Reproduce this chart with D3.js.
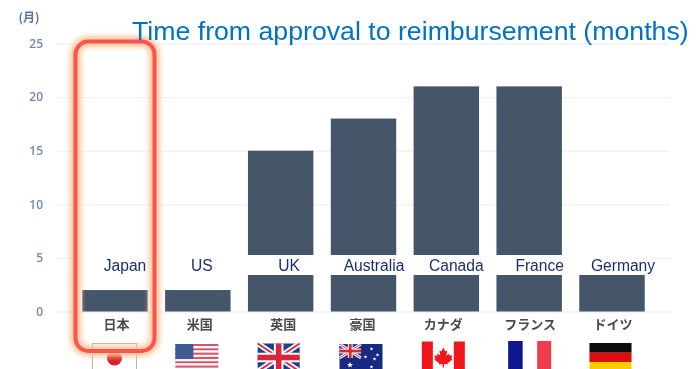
<!DOCTYPE html>
<html>
<head>
<meta charset="utf-8">
<script src="https://cdn.jsdelivr.net/npm/d3@7"></script>
<style>
html,body{margin:0;padding:0;background:#fff;overflow:hidden}
svg{display:block}
</style>
</head>
<body>
<svg id="chart" width="700" height="369"></svg>
<script>
// Chart data
const countriesEn = ["Japan", "US", "UK", "Australia", "Canada", "France", "Germany"];
const countriesJa = ["日本", "米国", "英国", "豪国", "カナダ", "フランス", "ドイツ"];
const flagCodes = ["jp", "us", "uk", "au", "ca", "fr", "de"];
const months = [2, 2, 15, 18, 21, 21, 3.5];
const yTicks = [0, 5, 10, 15, 20, 25];
const titleText = "Time from approval to reimbursement (months)";
const unitText = "(月)";

// Hand placement of the overlaid captions, names and flags relative to each band centre
const captionShift = [10, 4, 8.5, 10.5, 10, 10.5, 11];
const nameShift = [1.5, 2, 2.5, -1, -3, 1, 1];
const flagShift = [-1.5, -1, -1.5, -2.5, -3, 0.5, -1];
const flagTop = [343, 344, 343.5, 344, 341.5, 341, 343];

const svg = d3.select("#chart");
const defs = svg.append("defs");
defs.append("filter").attr("id", "soft").attr("x", "-5%").attr("y", "-5%").attr("width", "110%").attr("height", "110%")
  .append("feGaussianBlur").attr("stdDeviation", 0.7);
defs.append("filter").attr("id", "glow").attr("x", "-30%").attr("y", "-10%").attr("width", "160%").attr("height", "120%")
  .append("feGaussianBlur").attr("stdDeviation", 2.4);

const x = d3.scaleBand().domain(countriesEn).range([74, 653]).paddingInner(0.21).paddingOuter(0.1);
const y = d3.scaleLinear().domain([0, 25]).range([311.5, 43.5]);

const soft = svg.append("g").attr("filter", "url(#soft)");

// Value axis with gridlines spanning the plot
const axis = soft.append("g")
  .attr("transform", "translate(57,0)")
  .call(d3.axisLeft(y).tickValues(yTicks).tickSize(-613).tickPadding(14));
axis.select(".domain").remove();
axis.selectAll(".tick line").attr("stroke", "#eef1f7").attr("stroke-width", 1.3);
axis.selectAll(".tick text")
  .attr("fill", "#7488a8")
  .attr("font-family", "'Open Sans', sans-serif")
  .attr("font-weight", 600)
  .attr("font-size", 12);

soft.append("text").attr("x", 29).attr("y", 21.5).attr("text-anchor", "middle")
  .attr("font-family", "'Noto Sans CJK JP', sans-serif").attr("font-weight", "bold")
  .attr("font-size", 12).attr("fill", "#5f7299").text(unitText);

// Bars
soft.selectAll("rect.bar").data(months).join("rect")
  .attr("class", "bar")
  .attr("x", (d, i) => x(countriesEn[i]))
  .attr("width", x.bandwidth())
  .attr("y", d => y(d))
  .attr("height", d => y(0) - y(d))
  .attr("fill", "#44546a");

// Japanese country names under the baseline
soft.selectAll("text.ja").data(countriesJa).join("text")
  .attr("class", "ja")
  .attr("x", (d, i) => x(countriesEn[i]) + x.bandwidth() / 2 + nameShift[i])
  .attr("y", 328.5)
  .attr("text-anchor", "middle")
  .attr("font-family", "'Noto Sans CJK JP', sans-serif")
  .attr("font-weight", "bold")
  .attr("font-size", 13)
  .attr("fill", "#4a4a4a")
  .text(d => d);

// Flags
const FW = 43, FH = 28;
function star(g, cx, cy, r, fill) {
  const pts = d3.range(10).map(k => {
    const a = -Math.PI / 2 + k * Math.PI / 5, q = k % 2 ? r * 0.42 : r;
    return [cx + q * Math.cos(a), cy + q * Math.sin(a)];
  });
  g.append("polygon").attr("points", pts.join(" ")).attr("fill", fill);
}
function unionJack(g, w, h) {
  g.append("rect").attr("width", w).attr("height", h).attr("fill", "#1f3f8f");
  const diag = [[0, 0, w, h], [w, 0, 0, h]];
  diag.forEach(d => g.append("line").attr("x1", d[0]).attr("y1", d[1]).attr("x2", d[2]).attr("y2", d[3])
    .attr("stroke", "#fff").attr("stroke-width", h * 0.2));
  diag.forEach(d => g.append("line").attr("x1", d[0]).attr("y1", d[1]).attr("x2", d[2]).attr("y2", d[3])
    .attr("stroke", "#d8283c").attr("stroke-width", h * 0.07));
  g.append("rect").attr("x", w / 2 - h * 0.17).attr("width", h * 0.34).attr("height", h).attr("fill", "#fff");
  g.append("rect").attr("y", h / 2 - h * 0.17).attr("width", w).attr("height", h * 0.34).attr("fill", "#fff");
  g.append("rect").attr("x", w / 2 - h * 0.1).attr("width", h * 0.2).attr("height", h).attr("fill", "#d8283c");
  g.append("rect").attr("y", h / 2 - h * 0.1).attr("width", w).attr("height", h * 0.2).attr("fill", "#d8283c");
}
const flagPainters = {
  jp(g) {
    g.append("rect").attr("x", 0.5).attr("y", 0.5).attr("width", FW + 1).attr("height", FH).attr("fill", "#fff")
      .attr("stroke", "#b5b5b5").attr("stroke-width", 1);
    g.append("circle").attr("cx", FW / 2 + 1).attr("cy", 15).attr("r", 7.5).attr("fill", "#d8202a");
  },
  us(g) {
    d3.range(13).forEach(k => g.append("rect").attr("y", k * FH / 13).attr("width", FW).attr("height", FH / 13 + 0.2)
      .attr("fill", k % 2 ? "#fff" : "#d9536a"));
    g.append("rect").attr("width", FW * 0.42).attr("height", FH * 7 / 13).attr("fill", "#3e5a94");
  },
  uk(g) { unionJack(g, FW - 1, FH); },
  au(g) {
    g.append("rect").attr("width", FW).attr("height", FH).attr("fill", "#122a84");
    unionJack(g.append("g"), FW * 0.5, FH * 0.5);
    star(g, 10.5, 21, 3.2, "#fff");
    [[32, 5], [26, 13], [38, 11], [32, 23], [35, 15]].forEach(p => star(g, p[0], p[1], 2, "#fff"));
  },
  ca(g) {
    g.append("rect").attr("width", FW).attr("height", FH).attr("fill", "#fff");
    g.append("rect").attr("width", 11).attr("height", FH).attr("fill", "#f0131e");
    g.append("rect").attr("x", FW - 11).attr("width", 11).attr("height", FH).attr("fill", "#f0131e");
    g.append("path").attr("transform", `translate(${FW / 2},15)`)
      .attr("d", "M0,-9 L2,-5 L4,-6 L3,-1 L6,-3 L6,-1 L9,-1 L8,2 L9,3 L4,7 L4.5,8 L0.7,7.5 L0.7,11 L-0.7,11 L-0.7,7.5 L-4.5,8 L-4,7 L-9,3 L-8,2 L-9,-1 L-6,-1 L-6,-3 L-3,-1 L-4,-6 L-2,-5 Z")
      .attr("fill", "#f0131e");
  },
  fr(g) {
    g.append("rect").attr("width", 14.5).attr("height", FH + 1).attr("fill", "#10198c");
    g.append("rect").attr("x", 29).attr("width", 14).attr("height", FH + 1).attr("fill", "#ef3b4c");
  },
  de(g) {
    ["#0a0a0a", "#dd0a0a", "#fdcb00"].forEach((c, k) =>
      g.append("rect").attr("y", k * 9.5).attr("width", FW - 1).attr("height", 9.7).attr("fill", c));
  }
};
flagCodes.forEach((code, i) => {
  const left = x(countriesEn[i]) + x.bandwidth() / 2 + flagShift[i] - FW / 2;
  flagPainters[code](soft.append("g").attr("transform", `translate(${left},${flagTop[i]})`));
});

// White strip that carries the English captions across the bars
svg.append("rect").attr("x", 85).attr("y", 255).attr("width", 566).attr("height", 20).attr("fill", "#fff");

// Highlight frame around the first country
const frame = { x0: 75.5, x1: 154.5, y0: 41.5, y1: 351 };
const frameRect = sel => sel.append("rect")
  .attr("x", frame.x0).attr("y", frame.y0)
  .attr("width", frame.x1 - frame.x0).attr("height", frame.y1 - frame.y0)
  .attr("rx", 13).attr("fill", "none");
frameRect(svg).attr("stroke", "#fdc79c").attr("stroke-width", 11).attr("filter", "url(#glow)");
frameRect(svg).attr("stroke", "#fd5350").attr("stroke-width", 4);

// English captions
svg.selectAll("text.en").data(countriesEn).join("text")
  .attr("class", "en")
  .attr("x", (d, i) => x(d) + x.bandwidth() / 2 + captionShift[i])
  .attr("y", 270.5)
  .attr("text-anchor", "middle")
  .attr("font-family", "'Liberation Sans', Arial, sans-serif")
  .attr("font-size", 15.6)
  .attr("fill", "#1b2f6e")
  .text(d => d);

// Title
svg.append("text").attr("x", 132).attr("y", 40)
  .attr("font-family", "'Liberation Sans', Arial, sans-serif")
  .attr("font-size", 26.7)
  .attr("fill", "#0070c0")
  .text(titleText);
</script>
</body>
</html>
